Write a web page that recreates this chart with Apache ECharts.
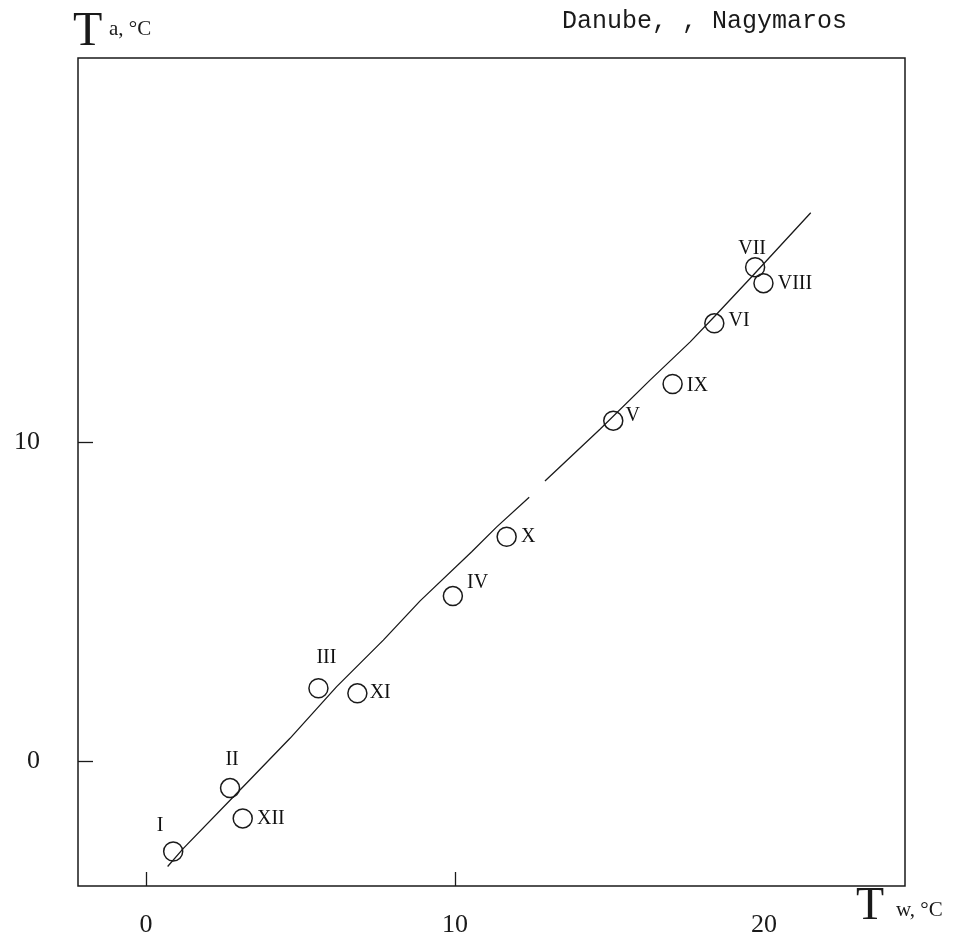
<!DOCTYPE html>
<html>
<head>
<meta charset="utf-8">
<script src="https://cdn.jsdelivr.net/npm/echarts@6/dist/echarts.min.js"></script>
<style>
html,body{margin:0;padding:0;background:#fff;}
#c{width:963px;height:944px;}
</style>
</head>
<body>
<div id="c"></div>
<script>
// Month labels (Roman numerals)
var months = ['I','II','XII','III','XI','IV','X','V','IX','VI','VII','VIII'];
// Water temperature Tw (°C)
var tw = [0.88, 2.72, 3.13, 5.58, 6.84, 9.93, 11.67, 15.12, 17.04, 18.39, 19.71, 19.98];
// Air temperature Ta (°C)
var ta = [-2.84, -0.85, -1.80, 2.28, 2.12, 5.17, 7.03, 10.67, 11.82, 13.72, 15.48, 14.98];
// Fitted curve, lower segment
var curveLowX = [0.70, 1.21, 2.94, 4.66, 6.17, 7.68, 8.87, 10.54, 11.35, 12.40];
var curveLowY = [-3.31, -2.74, -1.01, 0.71, 2.33, 3.79, 5.02, 6.56, 7.34, 8.27];
// Fitted curve, upper segment
var curveHighX = [12.91, 14.69, 16.31, 17.61, 18.41, 19.60, 21.51];
var curveHighY = [8.78, 10.40, 11.94, 13.14, 13.95, 15.18, 17.19];
// Tick labels
var xTicks = [0, 10, 20];
var yTicks = [0, 10];

// label placement per point (style only)
var labelPlace = {
  'I':   {position:'top', offset:[-13,-2]},
  'II':  {position:'top', offset:[2,-4]},
  'XII': {position:'right', offset:[0,0]},
  'III': {position:'top', offset:[8,-6]},
  'XI':  {position:'right', offset:[-2,-1]},
  'IV':  {position:'right', offset:[0,-13]},
  'X':   {position:'right', offset:[0,0]},
  'V':   {position:'right', offset:[-2,-5]},
  'IX':  {position:'right', offset:[0,2]},
  'VI':  {position:'right', offset:[0,-3]},
  'VII': {position:'top', offset:[-3,6]},
  'VIII':{position:'right', offset:[0,1]}
};

var pts = months.map(function(m,i){
  var lp = labelPlace[m];
  return {value:[tw[i], ta[i]], name:m, label:{position:lp.position, offset:lp.offset}};
});
function pairs(xs, ys){ return xs.map(function(x,i){ return [x, ys[i]]; }); }

var serif = '"Liberation Serif", "DejaVu Serif", serif';
var chart = echarts.init(document.getElementById('c'), null, {renderer:'canvas'});
chart.setOption({
  animation:false,
  backgroundColor:'#fff',
  grid:{left:78, right:58, top:58, bottom:58, show:true, borderColor:'#1a1a1a', borderWidth:1.5, backgroundColor:'transparent'},
  xAxis:{
    type:'value', min:-2.2, max:24.56,
    axisLine:{show:false, onZero:false},
    splitLine:{show:false},
    axisTick:{show:true, inside:true, length:14, customValues:[0,10], lineStyle:{color:'#1a1a1a', width:1.3}},
    axisLabel:{show:true, customValues:xTicks, margin:26, color:'#1a1a1a', fontFamily:serif, fontSize:26}
  },
  yAxis:{
    type:'value', min:-3.92, max:22.04,
    axisLine:{show:false, onZero:false},
    splitLine:{show:false},
    axisTick:{show:true, inside:true, length:15, customValues:yTicks, lineStyle:{color:'#1a1a1a', width:1.3}},
    axisLabel:{show:true, customValues:yTicks, margin:38, color:'#1a1a1a', fontFamily:serif, fontSize:26}
  },
  series:[
    {type:'line', data:pairs(curveLowX, curveLowY), showSymbol:false, symbol:'none',
     lineStyle:{color:'#1a1a1a', width:1.3}, z:2},
    {type:'line', data:pairs(curveHighX, curveHighY), showSymbol:false, symbol:'none',
     lineStyle:{color:'#1a1a1a', width:1.3}, z:2},
    {type:'scatter', data:pts, symbol:'circle', symbolSize:19,
     itemStyle:{color:'rgba(0,0,0,0)', borderColor:'#1a1a1a', borderWidth:1.5, opacity:1},
     label:{show:true, formatter:'{b}', color:'#111', fontFamily:serif, fontSize:20, distance:4},
     emphasis:{disabled:true}, z:3}
  ],
  graphic:[
    {type:'text', left:73, top:8, style:{text:'T', font:'48px "Liberation Serif", serif', fill:'#1a1a1a'}},
    {type:'text', left:109, top:19, style:{text:'a, °C', font:'21px "Liberation Serif", serif', fill:'#1a1a1a'}},
    {type:'text', left:562, top:9, style:{text:'Danube, , Nagymaros', font:'25px "Liberation Mono", monospace', fill:'#1a1a1a'}},
    {type:'text', left:856, top:884, style:{text:'T', font:'46px "Liberation Serif", serif', fill:'#1a1a1a'}},
    {type:'text', left:896, top:900, style:{text:'w, °C', font:'21px "Liberation Serif", serif', fill:'#1a1a1a'}}
  ]
});
</script>
</body>
</html>
